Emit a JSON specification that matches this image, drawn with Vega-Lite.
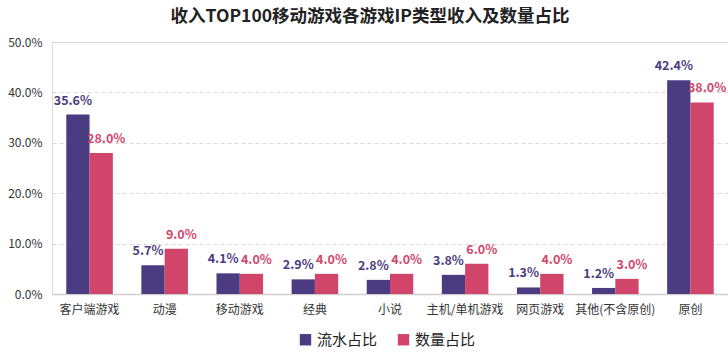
{
  "$schema": "https://vega.github.io/schema/vega-lite/v6.json",
  "autosize": {"type": "none"},
  "width": 676,
  "height": 252,
  "padding": {"left": 52, "top": 42, "right": 0, "bottom": 62},
  "background": "white",
  "title": {
    "text": "收入TOP100移动游戏各游戏IP类型收入及数量占比",
    "font": "Noto Sans CJK SC",
    "fontSize": 17.5,
    "fontWeight": "bold",
    "color": "#222222",
    "anchor": "middle",
    "dx": -20,
    "offset": 11
  },
  "data": {
    "values": [
      {"cat": "客户端游戏", "series": "流水占比", "v": 0.356},
      {"cat": "客户端游戏", "series": "数量占比", "v": 0.28},
      {"cat": "动漫", "series": "流水占比", "v": 0.057},
      {"cat": "动漫", "series": "数量占比", "v": 0.09},
      {"cat": "移动游戏", "series": "流水占比", "v": 0.041},
      {"cat": "移动游戏", "series": "数量占比", "v": 0.04},
      {"cat": "经典", "series": "流水占比", "v": 0.029},
      {"cat": "经典", "series": "数量占比", "v": 0.04},
      {"cat": "小说", "series": "流水占比", "v": 0.028},
      {"cat": "小说", "series": "数量占比", "v": 0.04},
      {"cat": "主机/单机游戏", "series": "流水占比", "v": 0.038},
      {"cat": "主机/单机游戏", "series": "数量占比", "v": 0.06},
      {"cat": "网页游戏", "series": "流水占比", "v": 0.013},
      {"cat": "网页游戏", "series": "数量占比", "v": 0.04},
      {"cat": "其他(不含原创)", "series": "流水占比", "v": 0.012},
      {"cat": "其他(不含原创)", "series": "数量占比", "v": 0.03},
      {"cat": "原创", "series": "流水占比", "v": 0.424},
      {"cat": "原创", "series": "数量占比", "v": 0.38}
    ]
  },
  "encoding": {
    "x": {
      "field": "cat",
      "type": "nominal",
      "sort": null,
      "scale": {"paddingInner": 0.38, "paddingOuter": 0.19},
      "axis": {
        "title": null,
        "labelAngle": 0,
        "labelFont": "Noto Sans CJK SC",
        "labelFontSize": 12,
        "labelColor": "#333333",
        "labelPadding": 10,
        "ticks": false,
        "domain": true,
        "domainColor": "#d0d0d0",
        "domainWidth": 1.5
      }
    },
    "xOffset": {"field": "series", "type": "nominal", "sort": ["流水占比", "数量占比"]},
    "y": {
      "field": "v",
      "type": "quantitative",
      "scale": {"domain": [0, 0.5], "nice": false},
      "axis": {
        "title": null,
        "format": ".1%",
        "values": [0, 0.1, 0.2, 0.3, 0.4, 0.5],
        "labelFont": "Noto Sans CJK SC",
        "labelFontSize": 12,
        "labelColor": "#333333",
        "labelPadding": 10,
        "labelOverlap": false,
        "ticks": false,
        "domain": false,
        "grid": true,
        "gridDash": [4, 3],
        "gridColor": "#d9d9d9"
      }
    },
    "color": {
      "field": "series",
      "type": "nominal",
      "sort": ["流水占比", "数量占比"],
      "scale": {"domain": ["流水占比", "数量占比"], "range": ["#4b3b80", "#d2456b"]},
      "legend": {
        "title": null,
        "orient": "none",
        "legendX": 246,
        "legendY": 290,
        "direction": "horizontal",
        "symbolType": "square",
        "symbolSize": 130,
        "symbolStrokeWidth": 0,
        "labelFont": "Noto Sans CJK SC",
        "labelFontSize": 15,
        "labelColor": "#222222",
        "columnPadding": 18,
        "labelOffset": 4
      }
    }
  },
  "layer": [
    {"mark": {"type": "bar"}},
    {
      "transform": [{"filter": "datum.series === '流水占比'"}],
      "mark": {
        "type": "text",
        "dy": -14,
        "dx": -5,
        "font": "Noto Sans CJK SC",
        "fontSize": 12.5,
        "fontWeight": "bold"
      },
      "encoding": {
        "text": {"field": "v", "type": "quantitative", "format": ".1%"}
      }
    },
    {
      "transform": [{"filter": "datum.series === '数量占比'"}],
      "mark": {
        "type": "text",
        "dy": -14,
        "dx": 5,
        "font": "Noto Sans CJK SC",
        "fontSize": 12.5,
        "fontWeight": "bold"
      },
      "encoding": {
        "text": {"field": "v", "type": "quantitative", "format": ".1%"}
      }
    }
  ]
}
